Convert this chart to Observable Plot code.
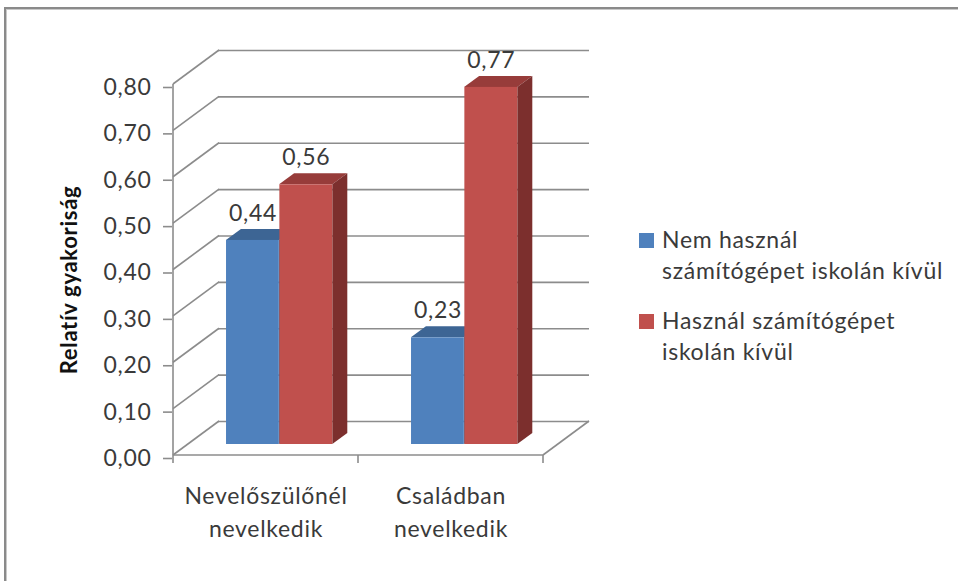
<!DOCTYPE html>
<html>
<head>
<meta charset="utf-8">
<script src="https://cdn.jsdelivr.net/npm/d3@7"></script>
<script src="https://cdn.jsdelivr.net/npm/@observablehq/plot@0.6"></script>
<style>
  html, body { margin: 0; padding: 0; background: #fff; overflow: hidden; }
  #wrap { position: relative; width: 958px; height: 581px; overflow: hidden; }
  #chart svg { display: block; background: transparent; }
  #chart svg text { letter-spacing: 0.7px; }
  #border { position: absolute; left: 4px; top: 7px; width: 1200px; height: 900px;
            border-top: 2px solid #8a8a8a; border-left: 2px solid #8a8a8a;
            box-shadow: inset 1px 1px 0 #c8c8c8; pointer-events: none; }
  .lg { position: absolute; left: 639px; font-family: Lato, "Open Sans", sans-serif;
        font-size: 23px; line-height: 31px; color: #3a3a3a; letter-spacing: 0.7px; }
  .lg .sw { position: absolute; left: 0; width: 15px; height: 15px; }
  .lg .tx { position: absolute; left: 23px; top: 0; white-space: pre; }
</style>
</head>
<body>
<div id="wrap">
  <div id="chart"></div>
  <div id="legend"></div>
  <div id="border"></div>
</div>
<script>
// ---- data ----
const categories = ["Nevelőszülőnél nevelkedik", "Családban nevelkedik"];
const categoryLines = ["Nevelőszülőnél\nnevelkedik", "Családban\nnevelkedik"];
const seriesNames = ["Nem használ számítógépet iskolán kívül", "Használ számítógépet iskolán kívül"];
const legendLines = ["Nem használ\nszámítógépet iskolán kívül", "Használ számítógépet\niskolán kívül"];
const nemHasznal = [0.44, 0.23];
const hasznal = [0.56, 0.77];
const yTicks = [0, 0.1, 0.2, 0.3, 0.4, 0.5, 0.6, 0.7, 0.8];
const yTitle = "Relatív gyakoriság";

// ---- styles ----
const frontColors = ["#4f81bd", "#c0504d"];
const topColors = ["#3d6594", "#973c3a"];
const sideColors = ["#35587f", "#7c2f2d"];
const gridColor = "#8c8c8c";
const textColor = "#3a3a3a";

const W = 958, H = 581;
const M = {top: 84, right: 415, bottom: 126, left: 172};
const wall = {dx: 46, dy: -34};      // depth of the back wall
const bar = {dx: 15, dy: -11};       // bars' front plane offset and bar depth
const barStartFrac = 0.205, barWidthFrac = 0.2875;
const bw = (W - M.left - M.right) / categories.length;

const seriesValues = [nemHasznal, hasznal];
const rows = [];
categories.forEach((c, i) => seriesValues.forEach((vals, s) => rows.push({category: c, s, series: seriesNames[s], value: vals[i]})));

const fmt = v => v.toFixed(2).replace(".", ",");

// walls, floor and axis lines, drawn from the scales
function frame3d(index, scales) {
  const x = scales.x, y = scales.y;
  const band = x.bandwidth ? x.bandwidth() : bw;
  const x0 = x(categories[0]), x1 = x(categories[categories.length - 1]) + band;
  const g = d3.create("svg:g").attr("fill", "none").attr("stroke", gridColor).attr("stroke-width", 1.6);
  for (const t of yTicks) {
    g.append("line").attr("x1", x0).attr("y1", y(t)).attr("x2", x0 + wall.dx).attr("y2", y(t) + wall.dy);
  }
  g.append("line").attr("x1", x1).attr("y1", y(0)).attr("x2", x1 + wall.dx).attr("y2", y(0) + wall.dy);
  g.append("line").attr("x1", x0).attr("y1", y(yTicks[yTicks.length - 1])).attr("x2", x0).attr("y2", y(0));
  g.append("line").attr("x1", x0).attr("y1", y(0)).attr("x2", x1).attr("y2", y(0));
  const bounds = categories.map(c => x(c)).concat([x1]);
  for (const b of bounds) g.append("line").attr("x1", b).attr("y1", y(0)).attr("x2", b).attr("y2", y(0) + 8);
  return g.node();
}

// top and side faces of the bars
function barFaces(index, scales) {
  const x = scales.x, y = scales.y;
  const band = x.bandwidth ? x.bandwidth() : bw;
  const g = d3.create("svg:g");
  for (const r of rows) {
    const xl = x(r.category) + band * (barStartFrac + r.s * barWidthFrac) + bar.dx;
    const xr = xl + band * barWidthFrac;
    const yt = y(r.value) + bar.dy;
    const yb = y(0) + bar.dy;
    g.append("path").attr("fill", topColors[r.s])
      .attr("d", `M${xl},${yt}L${xr},${yt}L${xr + bar.dx},${yt + bar.dy}L${xl + bar.dx},${yt + bar.dy}Z`);
    g.append("path").attr("fill", sideColors[r.s])
      .attr("d", `M${xr},${yt}L${xr + bar.dx},${yt + bar.dy}L${xr + bar.dx},${yb + bar.dy}L${xr},${yb}Z`);
  }
  return g.node();
}

const frontBars = [0, 1].map(s => Plot.barY(rows.filter(r => r.s === s), {
  x: "category", y: "value", fill: frontColors[s],
  insetLeft: bw * (barStartFrac + s * barWidthFrac),
  insetRight: bw - bw * (barStartFrac + (s + 1) * barWidthFrac),
  dx: bar.dx, dy: bar.dy
}));

const labels = [0, 1].map(s => Plot.text(rows.filter(r => r.s === s), {
  x: "category", y: "value", text: d => fmt(d.value),
  dx: bw * (barStartFrac + (s + 0.5) * barWidthFrac) - bw / 2 + bar.dx,
  dy: bar.dy - 27, fontSize: 23, fill: textColor, textAnchor: "middle", lineAnchor: "middle"
}));

const chart = Plot.plot({
  width: W, height: H,
  marginTop: M.top, marginRight: M.right, marginBottom: M.bottom, marginLeft: M.left,
  style: {fontFamily: "Lato, 'Open Sans', sans-serif", fontSize: "23px", color: textColor, background: "transparent"},
  x: {domain: categories, padding: 0, axis: null},
  y: {domain: [0, 0.8], axis: null},
  marks: [
    Plot.ruleY(yTicks, {stroke: gridColor, strokeWidth: 1.6, dx: wall.dx, dy: wall.dy}),
    frame3d,
    barFaces,
    ...frontBars,
    ...labels,
    Plot.axisY({ticks: yTicks, tickFormat: fmt, tickSize: 9, tickPadding: 12, stroke: gridColor, strokeWidth: 1.6,
                fill: textColor, fontSize: 23, dy: 3, label: null}),
    Plot.axisX({tickSize: 0, tickPadding: 25, tickFormat: (d, i) => categoryLines[categories.indexOf(d)],
                fill: textColor, fontSize: 23, lineHeight: 1.43, label: null}),
    Plot.text([yTitle], {frameAnchor: "left", rotate: -90, dx: -103, dy: 10, fontSize: 22, fontWeight: "bold",
                         fill: "#111", textAnchor: "middle", lineAnchor: "middle"})
  ]
});
document.getElementById("chart").appendChild(chart);

// legend
const legend = document.getElementById("legend");
const legendTops = [224, 305];
seriesNames.forEach((name, s) => {
  const item = document.createElement("div");
  item.className = "lg";
  item.style.top = legendTops[s] + "px";
  const sw = document.createElement("span");
  sw.className = "sw"; sw.style.background = frontColors[s]; sw.style.top = "9px";
  const tx = document.createElement("div");
  tx.className = "tx"; tx.textContent = legendLines[s];
  item.appendChild(sw); item.appendChild(tx);
  legend.appendChild(item);
});
</script>
</body>
</html>
